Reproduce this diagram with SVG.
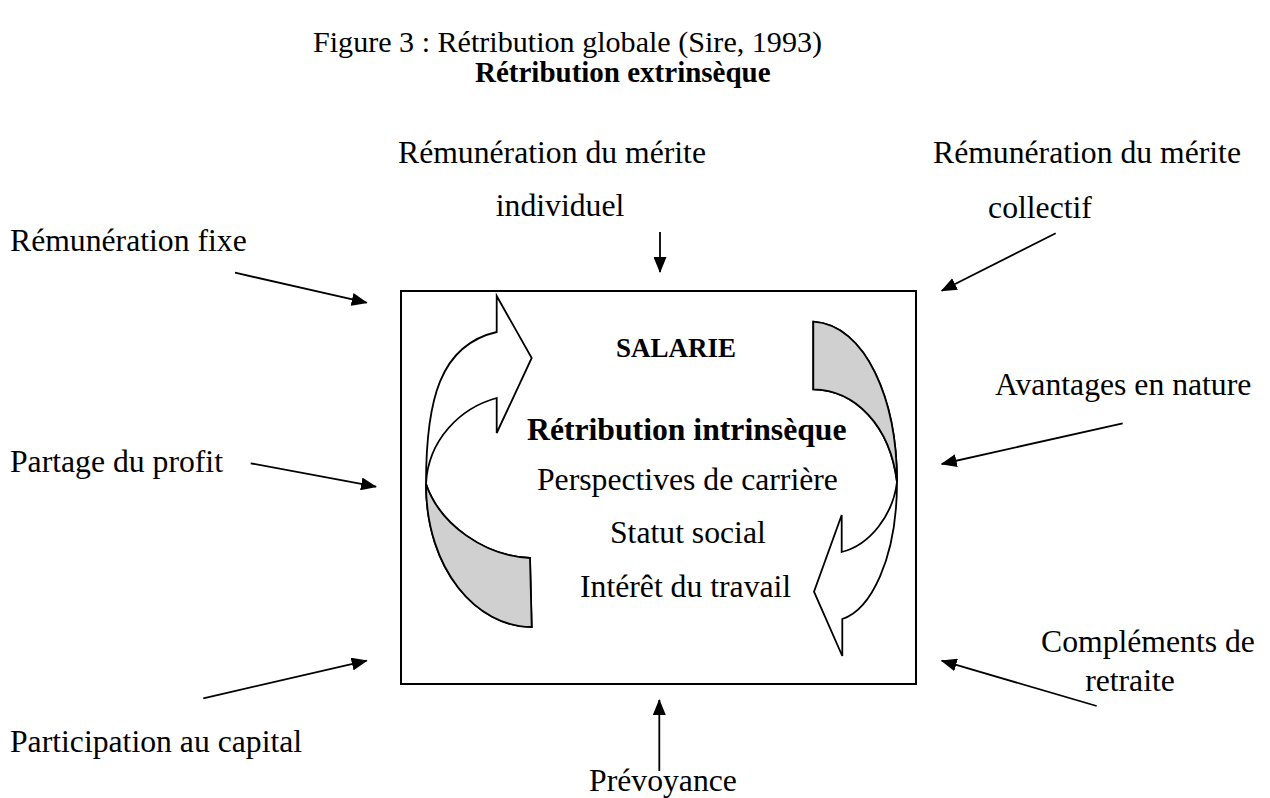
<svg xmlns="http://www.w3.org/2000/svg" width="1270" height="798" viewBox="0 0 1270 798">
  <style>
    text { font-family: "Liberation Serif", "Times New Roman", serif; fill: #000; }
    .t { font-size: 31.7px; }
    .b { font-weight: bold; }
    .box { fill: #fff; stroke: #000; stroke-width: 2; }
    .band { fill: #fff; stroke: #000; stroke-width: 1.8; stroke-linejoin: miter; }
    .shade { fill: #d0d0d0; stroke: #000; stroke-width: 1.8; }
    .link { stroke: #000; stroke-width: 1.8; fill: none; marker-end: url(#head); }
  </style>
  <defs>
    <marker id="head" viewBox="0 0 16 13" refX="15" refY="6.5" markerWidth="16" markerHeight="13" markerUnits="userSpaceOnUse" orient="auto">
      <path d="M0,0 L16,6.5 L0,13 Z" fill="#000"/>
    </marker>
  </defs>

  <rect width="1270" height="798" fill="#fff"/>

  <!-- headings -->
  <text x="313" y="52" style="font-size:30.1px">Figure 3 : Rétribution globale (Sire, 1993)</text>
  <text x="475" y="82" class="b" style="font-size:29px">Rétribution extrinsèque</text>

  <!-- central box with its cycle of arrows -->
  <g id="salarie">
    <rect class="box" x="401" y="291" width="515" height="393"/>
    <!-- left rising band -->
    <path class="band" d="M531.7,627 C477,627 426,570 426,484 C426,400 440,345 496.7,332 L496.7,296 L531.7,358 L496.7,433 L496.7,398 C460,408 428,440 426,484 C440,525 485,556 530,558 Z"/>
    <path class="shade" d="M426,484 C426,570 477,627 531.7,627 L530,558 C485,556 440,525 426,484 Z"/>
    <!-- right descending band -->
    <path class="band" d="M813.3,321.7 C866,325 897,400 897,482 C897,560 870,610 842.3,619 L842.3,656 L814,591.7 L841.7,515 L841.7,552 C870,545 893,515 897,482 C890,425 855,390 813.3,389.3 Z"/>
    <path class="shade" d="M813.3,321.7 C866,325 897,400 897,482 C890,425 855,390 813.3,389.3 Z"/>
    <text x="616" y="357" class="b" style="font-size:27px">SALARIE</text>
    <text x="527" y="440" class="t b">Rétribution intrinsèque</text>
    <text x="537" y="490" class="t">Perspectives de carrière</text>
    <text x="610" y="543" class="t">Statut social</text>
    <text x="580" y="597" class="t">Intérêt du travail</text>
  </g>

  <!-- components of pay around the box -->
  <g id="fixe"><text x="10" y="251" class="t">Rémunération fixe</text></g>
  <g id="merite-individuel">
    <text x="398" y="163" class="t">Rémunération du mérite</text>
    <text x="560" y="216" class="t" text-anchor="middle">individuel</text>
  </g>
  <g id="merite-collectif">
    <text x="933" y="163" class="t">Rémunération du mérite</text>
    <text x="1040" y="218" class="t" text-anchor="middle">collectif</text>
  </g>
  <g id="avantages"><text x="995" y="395" class="t">Avantages en nature</text></g>
  <g id="partage"><text x="10" y="472" class="t">Partage du profit</text></g>
  <g id="complements">
    <text x="1041" y="652" class="t">Compléments de</text>
    <text x="1130" y="691" class="t" text-anchor="middle">retraite</text>
  </g>
  <g id="participation"><text x="10" y="752" class="t">Participation au capital</text></g>
  <g id="prevoyance"><text x="663" y="791" class="t" text-anchor="middle">Prévoyance</text></g>

  <!-- connectors -->
  <g id="connectors">
    <line class="link" x1="235" y1="272.7" x2="366.7" y2="302.7"/>
    <line class="link" x1="660" y1="232" x2="660" y2="272"/>
    <line class="link" x1="1055.7" y1="233.3" x2="941.7" y2="290.7"/>
    <line class="link" x1="1122.7" y1="423.3" x2="941.7" y2="464"/>
    <line class="link" x1="250.7" y1="463.3" x2="376" y2="486.7"/>
    <line class="link" x1="1096.7" y1="706" x2="941.7" y2="660.7"/>
    <line class="link" x1="203.3" y1="698.3" x2="366.7" y2="660.7"/>
    <line class="link" x1="659.3" y1="771" x2="659.3" y2="700"/>
  </g>
</svg>
